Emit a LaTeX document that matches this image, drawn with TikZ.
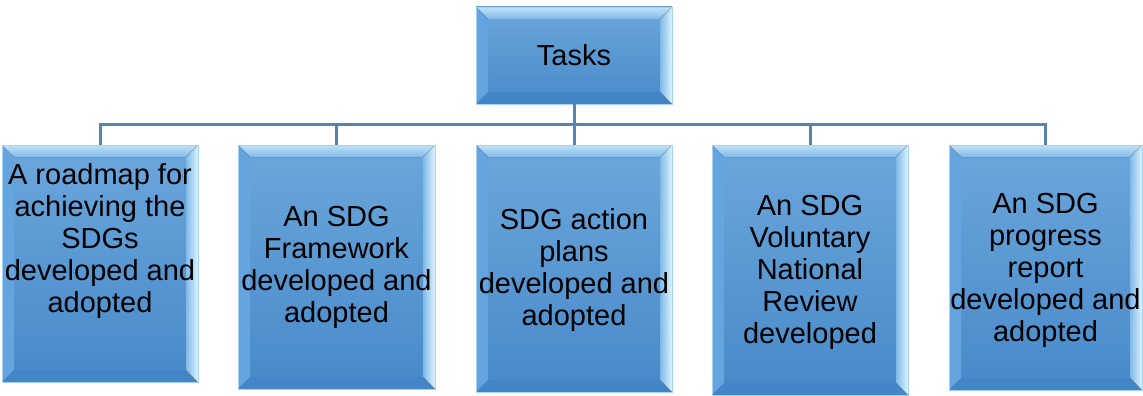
\documentclass[tikz,border=0pt]{standalone}
\usepackage{fontspec}
\setmainfont{Liberation Sans}
\usetikzlibrary{calc}
\definecolor{bodytop}{HTML}{6CA7DC}
\definecolor{bodybot}{HTML}{4789C9}
\definecolor{bevtopout}{HTML}{C2E2F8}
\definecolor{bevtopin}{HTML}{80B9E8}
\definecolor{bevright}{HTML}{DDF4FF}
\definecolor{bevleft}{HTML}{64A4DF}
\definecolor{bevbot}{HTML}{4385C6}
\definecolor{edge}{HTML}{A8D2F2}
\definecolor{conncol}{HTML}{5783B0}
\tikzset{
  x=1pt, y=1pt,
  bevelbox/.style={rectangle, inner sep=0pt, draw=edge, line width=0.6pt,
    top color=bodytop, bottom color=bodybot,
    path picture={
      \path (path picture bounding box.south west) coordinate (pSW)
            (path picture bounding box.north east) coordinate (pNE);
      % left bevel
      \fill[bevleft] (pSW) -- (pSW|-pNE) -- ($(pSW|-pNE)+(12,-12)$) -- ($(pSW)+(12,12)$) -- cycle;
      % bottom bevel
      \fill[bevbot] (pSW) -- (pNE|-pSW) -- ($(pNE|-pSW)+(-12,12)$) -- ($(pSW)+(12,12)$) -- cycle;
      % right bevel
      \fill[left color=bevtopin, right color=bevright] (pNE|-pSW) -- (pNE) -- ($(pNE)+(-12,-12)$) -- ($(pNE|-pSW)+(-12,12)$) -- cycle;
      % top bevel
      \fill[top color=bevtopout, bottom color=bevtopin] (pSW|-pNE) -- (pNE) -- ($(pNE)+(-12,-12)$) -- ($(pSW|-pNE)+(12,-12)$) -- cycle;
    }},
  label/.style={align=center, inner sep=0pt, font=\fontsize{29}{32}\selectfont, text=black},
  conn/.style={draw=conncol, line width=3pt}
}
\begin{document}
\begin{tikzpicture}
\useasboundingbox (0,0) rectangle (1143,-396);
% boxes
\node[bevelbox, minimum width=196, minimum height=97] (top) at (574,-55.5) {};
\node[bevelbox, minimum width=196, minimum height=237] (b1) at (100,-263.5) {};
\node[bevelbox, minimum width=197, minimum height=244] (b2) at (336.5,-267) {};
\node[bevelbox, minimum width=196, minimum height=247] (b3) at (574,-268.5) {};
\node[bevelbox, minimum width=196, minimum height=250] (b4) at (810,-270) {};
\node[bevelbox, minimum width=193, minimum height=245] (b5) at (1045.5,-267.5) {};
% texts
\node[label] (ttop) at (top.center) {Tasks};
\node[label] (t1) at (100,-241) {A roadmap for\\achieving the\\SDGs\\developed and\\adopted};
\node[label] (t2) at (336.5,-267) {An SDG\\Framework\\developed and\\adopted};
\node[label] (t3) at (574,-270) {SDG action\\plans\\developed and\\adopted};
\node[label] (t4) at (810,-272) {An SDG\\Voluntary\\National\\Review\\developed};
\node[label] (t5) at (1045.5,-270) {An SDG\\progress\\report\\developed and\\adopted};
% connectors
\coordinate (bus) at (574,-124);
\draw[conn] (top.south) -- (top.south|-bus);
\draw[conn] (b1.north) -- (b1.north|-bus) -- (b5.north|-bus) -- (b5.north);
\draw[conn] (b2.north) -- (b2.north|-bus);
\draw[conn] (b3.north) -- (b3.north|-bus);
\draw[conn] (b4.north) -- (b4.north|-bus);
\end{tikzpicture}
\end{document}
